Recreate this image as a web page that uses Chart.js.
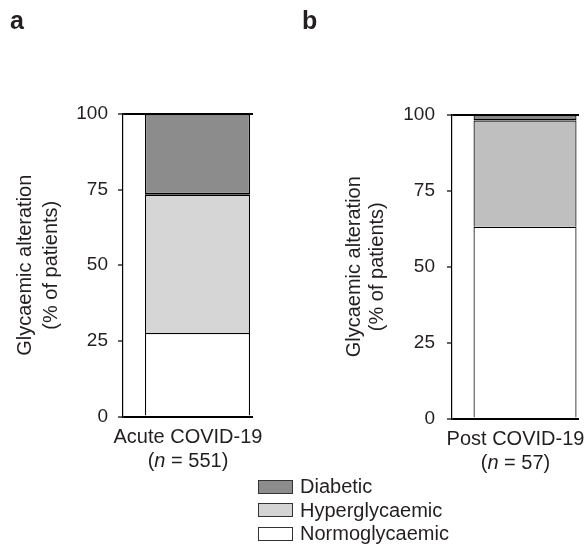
<!DOCTYPE html>
<html>
<head>
<meta charset="utf-8">
<script src="https://cdn.jsdelivr.net/npm/chart.js@4"></script>
<style>
  body { margin: 0; background: #fff; }
  #wrap { position: relative; width: 586px; height: 548px; overflow: hidden; }
  canvas { position: absolute; top: 0; }
  #chartA { left: 0; }
  #chartB { left: 293px; }
  #legend { position: absolute; left: 258px; top: 475px; font: 20px "Liberation Sans", Arial, sans-serif; color: #231f20; }
  .row { display: flex; align-items: center; height: 23.5px; }
  .box { width: 35px; height: 14px; box-sizing: border-box; border: 1.5px solid #333; margin-right: 7px; }
</style>
</head>
<body>
<div id="wrap">
  <canvas id="chartA" width="293" height="548"></canvas>
  <canvas id="chartB" width="293" height="548"></canvas>
  <div id="legend"></div>
</div>
<script>
// cohorts and patient counts
var groups = ['Acute COVID-19', 'Post COVID-19'];
var groupN = [551, 57];
var panelLetters = ['a', 'b'];

// % of patients in each glycaemic class, per cohort
var categories = ['Normoglycaemic', 'Hyperglycaemic', 'Diabetic'];
var normoPct = [27.6, 63.2];
var hyperPct = [45.7, 35.0];
var diabeticPct = [26.7, 1.8];

var yTicks = [0, 25, 50, 75, 100];

var FONT = '"Liberation Sans", Arial, sans-serif';
var TEXT = '#231f20';

var fills = {
    Normoglycaemic: ['#ffffff', '#ffffff'],
    Hyperglycaemic: ['#d6d6d6', '#bfbfbf'],
    Diabetic: ['#8c8c8c', '#8c8c8c']
};
var legendFill = { Normoglycaemic: '#ffffff', Hyperglycaemic: '#d4d4d4', Diabetic: '#8c8c8c' };

var borders = {
    Normoglycaemic: { top: 1.2, right: 1.2, bottom: 0, left: 1.2 },
    Hyperglycaemic: { top: 1.2, right: 1.2, bottom: 0, left: 1.2 },
    Diabetic: { top: 1.5, right: 1.2, bottom: 2, left: 1.2 }
};

// per-panel frame settings; the bar sits right of centre, leaving an empty strip by the axis
var frames = [
    { pad: { top: 114, right: 40, bottom: 131.5, left: 0 }, yWidth: 123, bar: 105, xMin: -0.573, xMax: 0.427, titleLine: 26, titlePad: 12, tickPad: 10, letterX: 10 },
    { pad: { top: 115, right: 7, bottom: 129.5, left: 0 }, yWidth: 159, bar: 103, xMin: -0.575, xMax: 0.425, titleLine: 23, titlePad: 49.5, tickPad: 12, letterX: 9 }
];

// panel letter and the two-line cohort label under the bar
var panelText = {
    id: 'panelText',
    afterDraw: function (chart, args, opts) {
        var ctx = chart.ctx, area = chart.chartArea;
        var cx = (area.left + area.right) / 2;
        ctx.save();
        ctx.fillStyle = TEXT;
        ctx.textBaseline = 'alphabetic';
        ctx.font = 'bold 25px ' + FONT;
        ctx.textAlign = 'left';
        ctx.fillText(opts.letter, opts.letterX, 29);

        ctx.font = '20px ' + FONT;
        ctx.textAlign = 'center';
        ctx.fillText(opts.group, cx, area.bottom + 26.5);

        var parts = [['(', ''], ['n', 'italic '], [' = ' + opts.n + ')', '']];
        var total = 0;
        parts.forEach(function (p) {
            ctx.font = p[1] + '20px ' + FONT;
            p.push(ctx.measureText(p[0]).width);
            total += p[2];
        });
        var x = cx - total / 2;
        ctx.textAlign = 'left';
        parts.forEach(function (p) {
            ctx.font = p[1] + '20px ' + FONT;
            ctx.fillText(p[0], x, area.bottom + 50);
            x += p[2];
        });
        ctx.restore();
    }
};

function BuildPanel(i, elementId) {
    var f = frames[i];
    var values = { Normoglycaemic: normoPct, Hyperglycaemic: hyperPct, Diabetic: diabeticPct };
    var datasets = categories.map(function (c) {
        return {
            label: c,
            data: [{ x: 0, y: values[c][i] }],
            backgroundColor: fills[c][i],
            borderColor: '#000',
            borderWidth: borders[c],
            borderSkipped: false,
            inflateAmount: 0,
            barThickness: f.bar
        };
    });

    return new Chart(document.getElementById(elementId), {
        type: 'bar',
        data: { datasets: datasets },
        plugins: [panelText],
        options: {
            responsive: false,
            animation: false,
            layout: { padding: f.pad },
            plugins: {
                legend: { display: false },
                tooltip: { enabled: false },
                panelText: { letter: panelLetters[i], letterX: f.letterX, group: groups[i], n: groupN[i] }
            },
            scales: {
                x: {
                    type: 'linear',
                    stacked: true,
                    display: false,
                    afterBuildTicks: function (scale) {
                        scale.ticks = [];
                        scale.min = f.xMin;
                        scale.max = f.xMax;
                    }
                },
                y: {
                    stacked: true,
                    min: 0,
                    max: 100,
                    afterBuildTicks: function (scale) {
                        scale.ticks = yTicks.map(function (v) { return { value: v }; });
                    },
                    afterFit: function (scale) { scale.width = f.yWidth; },
                    border: { display: true, color: '#000', width: 1.2 },
                    grid: {
                        color: function (c) {
                            return (c.tick && (c.tick.value === 0 || c.tick.value === 100)) ? '#000' : 'rgba(0,0,0,0)';
                        },
                        lineWidth: 2,
                        tickColor: '#000',
                        tickWidth: 1.2,
                        tickLength: 5
                    },
                    ticks: {
                        color: TEXT,
                        padding: f.tickPad,
                        font: { family: FONT, size: 19 }
                    },
                    title: {
                        display: true,
                        text: ['Glycaemic alteration', '(% of patients)'],
                        color: TEXT,
                        font: { family: FONT, size: 20, lineHeight: f.titleLine + 'px' },
                        padding: { top: f.titlePad, bottom: 0 }
                    }
                }
            }
        }
    });
}

BuildPanel(0, 'chartA');
BuildPanel(1, 'chartB');

// legend, top row is the top of the stack
var legend = document.getElementById('legend');
categories.slice().reverse().forEach(function (c) {
    var row = document.createElement('div');
    row.className = 'row';
    var box = document.createElement('span');
    box.className = 'box';
    box.style.background = legendFill[c];
    var txt = document.createElement('span');
    txt.textContent = c;
    row.appendChild(box);
    row.appendChild(txt);
    legend.appendChild(row);
});
</script>
</body>
</html>
